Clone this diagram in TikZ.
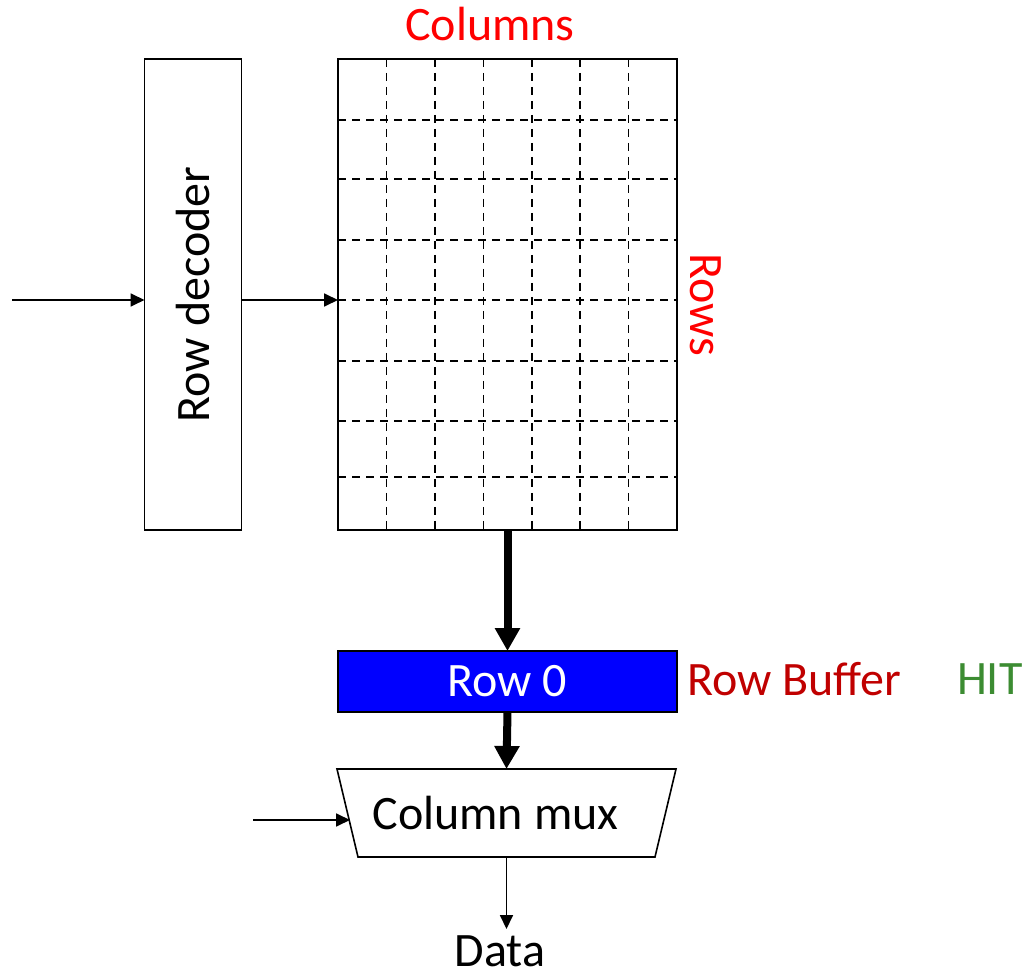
\documentclass[tikz,border=0pt]{standalone}
\usepackage{fontspec}
\setmainfont{Carlito}
\usetikzlibrary{arrows.meta,positioning,shapes.geometric}
\definecolor{dramRed}{RGB}{255,0,0}
\definecolor{bufferRed}{RGB}{192,0,0}
\definecolor{hitGreen}{RGB}{60,140,50}
\definecolor{bufferBlue}{RGB}{0,0,255}

\begin{document}
\begin{tikzpicture}[x=0.5pt,y=-0.5pt,
    every node/.style={font=\fontsize{24}{29}\selectfont},
    block/.style={draw,line width=0.8pt,inner sep=0pt,outer sep=0pt},
    cellline/.style={line width=0.8pt,dash pattern=on 4pt off 3pt},
    thinarrow/.style={-{Triangle[length=7pt,width=6.5pt]},line width=0.9pt},
    thickarrow/.style={-{Triangle[length=11.5pt,width=12pt]},line width=4pt}]
    \useasboundingbox (0,0) rectangle (1025,974);
    \node[block,minimum width=48.5pt,minimum height=235.5pt] (rowdec) at (193,294.5) {\rotatebox{90}{Row decoder}};
    \node[block,minimum width=169.5pt,minimum height=235.5pt] (array) at (507.5,294.5) {};
    % cell boundaries of the array
    \foreach \x in {386.5,435,483.5,532,580,628.5}{
      \draw[cellline] (\x,59) -- (\x,530);
    }
    \foreach \y in {120,179,240,300,361,421,477}{
      \draw[cellline] (338,\y) -- (677,\y);
    }
    \node[text=dramRed] (cols) at (490,24) {Columns};
    \node[text=dramRed,rotate=-90] (rows) at (706,305) {Rows};
    \node[block,fill=bufferBlue,text=white,minimum width=169.5pt,minimum height=30.5pt] (rowbuf) at (507.5,681.5) {Row 0};
    \node[text=bufferRed,anchor=west] (buflabel) at (680,679) {Row Buffer};
    \node[text=hitGreen,anchor=west] (hit) at (950,679) {HIT};
    % the mux outline, with its text node inside
    \draw[line width=0.8pt] (337,769) -- (676,769) -- (655,857) -- (358,857) -- cycle;
    \node[inner sep=0pt,outer sep=0pt,minimum width=156.5pt,minimum height=44pt] (colmux) at (506.5,813) {\hspace*{-11pt}Column mux};
    \node[inner ysep=3pt] (data) at (500,951) {Data};
    \coordinate (decin) at (12,300);
    \coordinate (muxin) at (253,820);
    \draw[thinarrow] (decin) -- (decin -| rowdec.west);
    \draw[thinarrow] (rowdec.east |- decin) -- (decin -| array.west);
    \draw[thickarrow] (array.south) -- (rowbuf.north);
    \draw[thickarrow] (rowbuf.south) -- (colmux.north);
    \draw[thinarrow] (muxin) -- (muxin -| colmux.west);
    \draw[thinarrow] (colmux.south) -- (colmux.south |- data.north);
  \end{tikzpicture}
\end{document}
